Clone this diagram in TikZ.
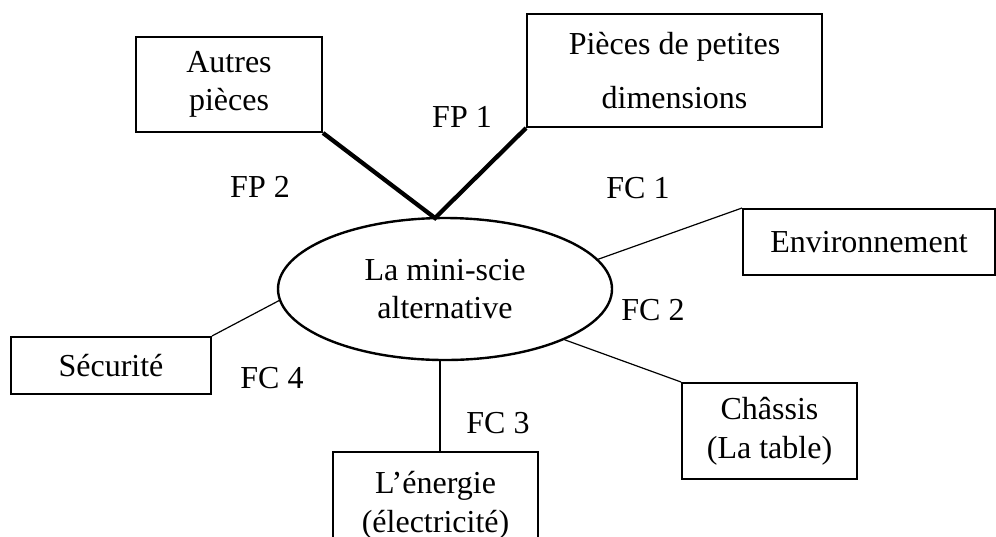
\documentclass[tikz,border=0pt]{standalone}
\usepackage{fontspec}
\setmainfont{Liberation Serif}
\usetikzlibrary{shapes.geometric}
\tikzset{
  boite/.style={draw,line width=0.75pt,align=center,inner sep=0pt},
  fonction/.style={inner sep=0pt},
  lien/.style={line width=0.45pt},
  liengras/.style={line width=1.6pt}
}
\begin{document}
\begin{tikzpicture}[x=0.375pt,y=-0.375pt,font=\fontsize{12pt}{14.5pt}\selectfont]
        \useasboundingbox (0,0) rectangle (996,536);
        \node[ellipse,draw,line width=0.9pt,minimum width=125.25pt,minimum height=53.25pt,align=center,inner sep=0pt](scie)at(445,289){La mini-scie\\alternative};
        \node[boite,minimum width=69.75pt,minimum height=35.6pt](autres)at(229,84.5){Autres\\pièces};
        \node[boite,minimum width=110.6pt,minimum height=42.4pt](pieces)at(674.5,70.5){Pièces de petites\\[6pt]dimensions};
        \node[boite,minimum width=94.5pt,minimum height=24.75pt](envir)at(869,242){Environnement};
        \node[boite,minimum width=75pt,minimum height=21.4pt](securite)at(111,365.5){Sécurité};
        \node[boite,minimum width=76.9pt,minimum height=39.75pt](energie)at(435.5,505){L’énergie\\(électricité)};
        \node[boite,minimum width=65.6pt,minimum height=36pt](chassis)at(769.5,431){Châssis\\(La table)};
        \coordinate(V)at(435,218);
        \draw[liengras](autres.south east)--(V)--(pieces.south west);
        \draw[lien](scie.11.5)--(envir.north west);
        \draw[lien](scie.-23)--(chassis.north west);
        \draw[lien](scie.266)--(scie.266 |- energie.north);
        \draw[lien](securite.north east)--(scie.184);
        \node[fonction](fp1)at(462,117){FP 1};
        \node[fonction](fp2)at(260,187){FP 2};
        \node[fonction](fc1)at(638,188){FC 1};
        \node[fonction](fc2)at(653,310){FC 2};
        \node[fonction](fc3)at(498,423){FC 3};
        \node[fonction](fc4)at(272,378){FC 4};
\end{tikzpicture}
\end{document}
